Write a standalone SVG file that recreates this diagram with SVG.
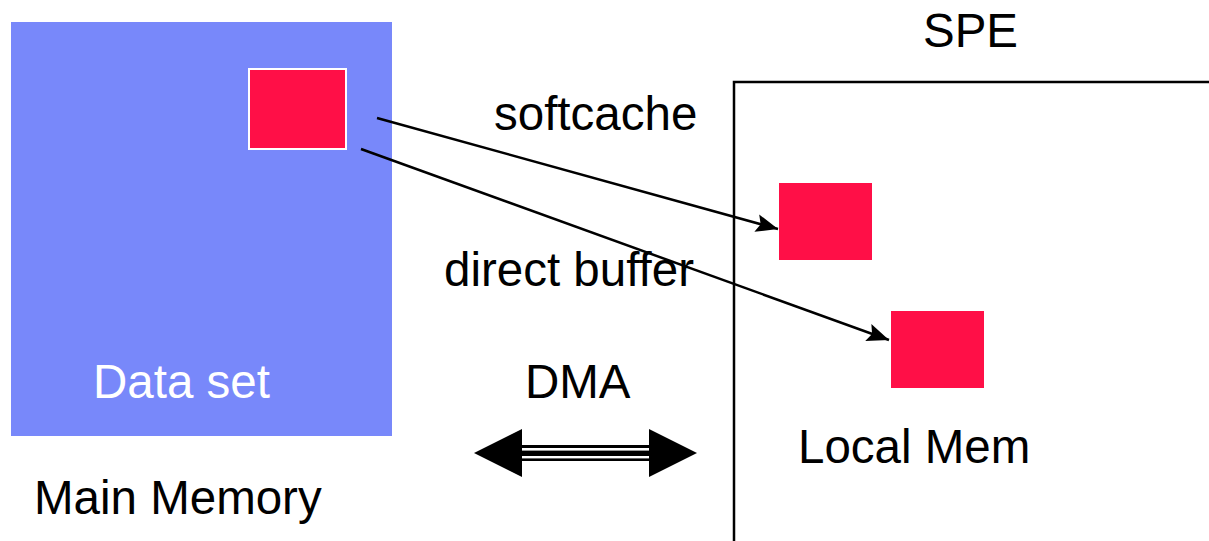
<svg xmlns="http://www.w3.org/2000/svg" width="1209" height="541" viewBox="0 0 1209 541">
  <style>
    text { font-family: "Liberation Sans", Arial, sans-serif; font-size: 47.5px; fill: #000; }
    .white { fill: #fff; }
    .block { fill: #FF0F47; }
    .conn { stroke: #000; stroke-width: 2.5; fill: none; marker-end: url(#ah); }
  </style>
  <defs>
    <marker id="ah" markerUnits="userSpaceOnUse" markerWidth="24" markerHeight="20" refX="22" refY="9" orient="auto" viewBox="0 0 24 18">
      <path d="M0,0 L22,9 L0,18 L4,9 Z" fill="#000"/>
    </marker>
  </defs>
  <rect width="1209" height="541" fill="#fff"/>

  <g id="main-memory">
    <rect x="11" y="22" width="381" height="414" fill="#7888FA"/>
    <text class="white" x="93" y="398">Data set</text>
    <text x="34" y="514">Main Memory</text>
  </g>

  <g id="source-block">
    <rect class="block" x="249" y="69" width="97" height="80" stroke="#fff" stroke-width="2"/>
  </g>

  <g id="spe">
    <path d="M734,541 L734,82 L1209,82" fill="none" stroke="#000" stroke-width="2.5"/>
    <text x="923" y="47">SPE</text>
    <text x="798" y="463">Local Mem</text>
  </g>

  <g id="local-block-1">
    <rect class="block" x="779" y="183" width="93" height="77"/>
  </g>

  <g id="local-block-2">
    <rect class="block" x="891" y="311" width="93" height="77"/>
  </g>

  <g id="labels">
    <text x="494" y="130">softcache</text>
    <text x="444" y="286">direct buffer</text>
    <text x="525" y="398">DMA</text>
  </g>

  <g id="connectors">
    <line class="conn" x1="377" y1="118" x2="778" y2="229"/>
    <line class="conn" x1="361" y1="149" x2="889" y2="340"/>
    <g id="dma-arrow">
      <polygon points="474,453 522,429 522,477" fill="#000"/>
      <polygon points="697,453 649,429 649,477" fill="#000"/>
      <rect x="521" y="445" width="129" height="16" fill="#000"/>
      <rect x="522" y="448" width="127" height="2.6" fill="#fff"/>
      <rect x="522" y="456" width="127" height="2.4" fill="#fff"/>
    </g>
  </g>
</svg>
